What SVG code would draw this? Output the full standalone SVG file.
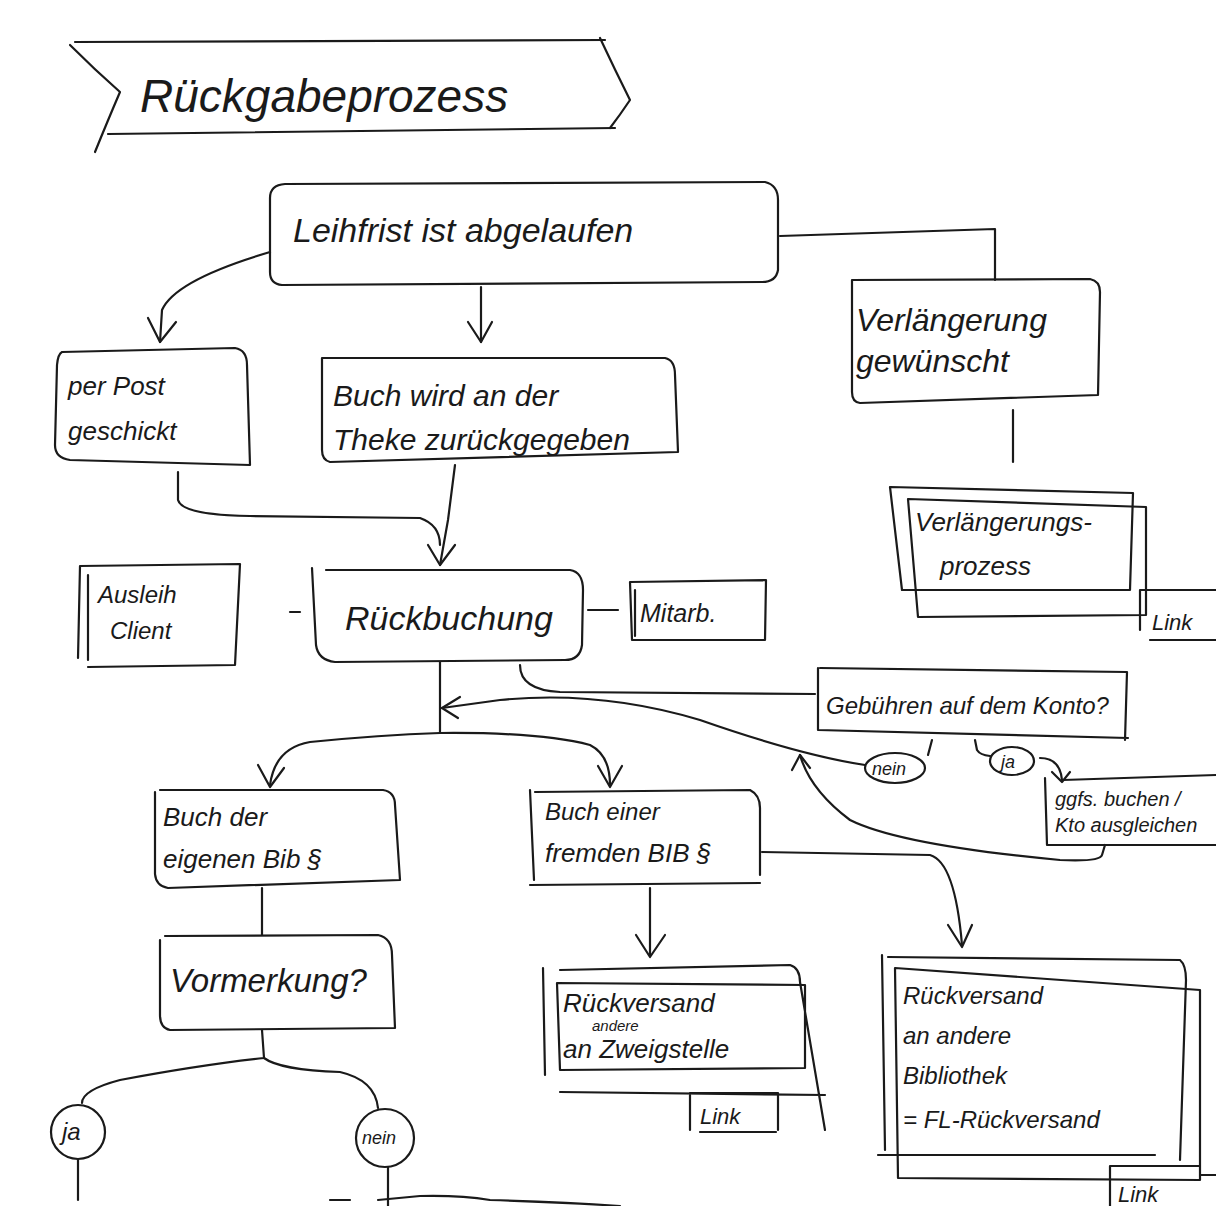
<svg xmlns="http://www.w3.org/2000/svg" width="1216" height="1206" viewBox="0 0 1216 1206">
<defs>
<style>
.s{fill:none;stroke:#1a1a1a;stroke-width:2.2;stroke-linecap:round;stroke-linejoin:round}
.t{font-family:"Liberation Sans","DejaVu Sans",sans-serif;fill:#1a1a1a;font-style:italic}
</style>
</defs>
<rect width="1216" height="1206" fill="#ffffff"/>

<g id="title">
<path class="s" d="M75 42 L605 40"/>
<path class="s" d="M70 45 Q95 70 120 92 Q108 120 95 152"/>
<path class="s" d="M108 134 L615 128"/>
<path class="s" d="M600 38 Q615 70 630 100 Q620 115 610 128"/>
<text class="t" x="140" y="112" font-size="46">Rückgabeprozess</text>
</g>

<g id="leihfrist">
<path class="s" d="M285 184 L765 182 Q778 185 778 200 L778 270 Q776 282 762 282 L282 285 Q270 284 270 272 L270 198 Q270 185 285 184 Z"/>
<text class="t" x="293" y="242" font-size="34">Leihfrist ist abgelaufen</text>
</g>

<g id="verlaengerung">
<path class="s" d="M852 280 L1090 279 Q1100 281 1100 292 L1098 395 L860 403 Q852 402 852 392 Z"/>
<text class="t" x="856" y="331" font-size="32">Verlängerung</text>
<text class="t" x="856" y="372" font-size="32">gewünscht</text>
</g>

<g id="verlaengerungsprozess">
<path class="s" d="M890 487 L1133 493 L1130 590 L902 590 Z"/>
<path class="s" d="M908 499 L1146 507 L1146 615 L918 617 Z"/>
<text class="t" x="915" y="531" font-size="26">Verlängerungs-</text>
<text class="t" x="940" y="575" font-size="26">prozess</text>
<path class="s" d="M1140 590 L1216 590 M1140 590 L1140 630 M1150 640 L1216 640"/>
<text class="t" x="1152" y="630" font-size="22">Link</text>
</g>

<g id="perpost">
<path class="s" d="M62 352 L235 348 Q247 350 247 365 L250 465 L70 460 Q55 458 55 445 L57 365 Q58 354 62 352 Z"/>
<text class="t" x="68" y="395" font-size="26">per Post</text>
<text class="t" x="68" y="440" font-size="26">geschickt</text>
</g>

<g id="theke">
<path class="s" d="M322 358 L665 358 Q675 360 675 375 L678 452 L330 462 Q322 460 322 450 Z"/>
<text class="t" x="333" y="406" font-size="30">Buch wird an der</text>
<text class="t" x="333" y="450" font-size="30">Theke zurückgegeben</text>
</g>

<g id="ausleih">
<path class="s" d="M80 566 L240 564 L235 665 L88 667 M80 566 L78 658 M88 575 L88 660"/>
<text class="t" x="98" y="603" font-size="24">Ausleih</text>
<text class="t" x="110" y="639" font-size="24">Client</text>
</g>

<g id="rueckbuchung">
<path class="s" d="M326 570 L570 570 Q583 572 583 590 L582 645 Q580 660 565 660 L335 662 Q318 660 316 645 L312 568"/>
<text class="t" x="345" y="630" font-size="34">Rückbuchung</text>
</g>

<g id="mitarb">
<path class="s" d="M630 582 L766 580 L765 640 L632 640 Z M635 590 L635 636"/>
<text class="t" x="640" y="622" font-size="25">Mitarb.</text>
</g>

<g id="gebuehren">
<path class="s" d="M820 668 L1127 672 L1125 740 M818 668 L818 730 L1128 738"/>
<text class="t" x="826" y="714" font-size="24">Gebühren auf dem Konto?</text>
</g>

<g id="nein1">
<ellipse class="s" cx="895" cy="768" rx="30" ry="15"/>
<text class="t" x="872" y="775" font-size="18">nein</text>
</g>

<g id="ja1">
<ellipse class="s" cx="1012" cy="761" rx="22" ry="14"/>
<text class="t" x="1001" y="768" font-size="18">ja</text>
</g>

<g id="ggfs">
<path class="s" d="M1063 780 L1216 775 M1045 778 L1047 845 L1216 845"/>
<text class="t" x="1055" y="806" font-size="20">ggfs. buchen /</text>
<text class="t" x="1055" y="832" font-size="20">Kto ausgleichen</text>
</g>

<g id="eigene">
<path class="s" d="M160 790 L383 790 Q395 792 395 805 L400 880 L168 888 Q156 886 155 874 L155 792"/>
<text class="t" x="163" y="826" font-size="26">Buch der</text>
<text class="t" x="163" y="868" font-size="26">eigenen Bib §</text>
</g>

<g id="fremde">
<path class="s" d="M535 792 L750 790 Q760 795 760 808 L760 875 M530 790 L534 880 M530 885 L760 883"/>
<text class="t" x="545" y="820" font-size="24">Buch einer</text>
<text class="t" x="545" y="862" font-size="26">fremden BIB §</text>
</g>

<g id="vormerkung">
<path class="s" d="M165 936 L378 935 Q392 938 392 955 L395 1028 L170 1030 Q160 1028 160 1015 L160 940"/>
<text class="t" x="170" y="992" font-size="33">Vormerkung?</text>
</g>

<g id="zweigstelle">
<path class="s" d="M560 970 L790 965 Q800 968 800 982 L825 1130 M543 968 L545 1075 M557 983 L805 985 L805 1068 L560 1070 Z M560 1092 L825 1095"/>
<text class="t" x="563" y="1012" font-size="26">Rückversand</text>
<text class="t" x="592" y="1031" font-size="15">andere</text>
<text class="t" x="563" y="1058" font-size="26">an Zweigstelle</text>
<path class="s" d="M690 1095 L690 1130 M690 1093 L778 1093 L778 1130 M700 1132 L776 1132"/>
<text class="t" x="700" y="1124" font-size="22">Link</text>
</g>

<g id="bibliothek">
<path class="s" d="M888 957 L1180 960 Q1186 965 1186 980 L1180 1160 M882 955 L885 1150 M878 1155 L1155 1155"/>
<path class="s" d="M895 968 L1200 990 L1200 1180 L898 1178 Z"/>
<text class="t" x="903" y="1004" font-size="24">Rückversand</text>
<text class="t" x="903" y="1044" font-size="24">an andere</text>
<text class="t" x="903" y="1084" font-size="24">Bibliothek</text>
<text class="t" x="903" y="1128" font-size="24">= FL-Rückversand</text>
<path class="s" d="M1110 1166 L1200 1166 M1110 1166 L1110 1206 M1200 1175 L1216 1175"/>
<text class="t" x="1118" y="1202" font-size="22">Link</text>
</g>

<g id="ja2">
<circle class="s" cx="78" cy="1132" r="27"/>
<text class="t" x="62" y="1140" font-size="24">ja</text>
</g>

<g id="nein2">
<circle class="s" cx="385" cy="1138" r="29"/>
<text class="t" x="362" y="1144" font-size="18">nein</text>
</g>

<g id="connectors">
<path class="s" d="M780 236 L995 229 L995 280"/>
<path class="s" d="M1013 410 L1013 462"/>
<path class="s" d="M270 252 Q175 280 162 310 L160 342"/>
<path class="s" d="M148 318 L160 342 L176 322"/>
<path class="s" d="M481 287 L481 342"/>
<path class="s" d="M468 322 L481 342 L492 322"/>
<path class="s" d="M178 472 L178 500 Q182 515 250 516 L420 518 Q440 525 440 545"/>
<path class="s" d="M455 465 L448 520 L440 565"/>
<path class="s" d="M428 545 L440 565 L455 545"/>
<path class="s" d="M290 612 L300 612"/>
<path class="s" d="M588 610 L618 610"/>
<path class="s" d="M440 662 L440 733"/>
<path class="s" d="M520 665 Q520 690 560 692 L815 694"/>
<path class="s" d="M932 740 L928 755"/>
<path class="s" d="M975 740 L977 750 Q980 755 990 756"/>
<path class="s" d="M865 765 Q800 755 700 720 Q600 690 500 700 L442 708"/>
<path class="s" d="M460 697 L442 708 L458 718"/>
<path class="s" d="M1040 758 Q1060 758 1062 780"/>
<path class="s" d="M1052 772 L1062 782 L1070 772"/>
<path class="s" d="M1105 845 L1102 855 Q1100 862 1060 860 Q900 845 850 820 Q810 790 800 755"/>
<path class="s" d="M792 770 L800 755 L810 768"/>
<path class="s" d="M440 733 Q380 735 310 742 Q275 748 270 785"/>
<path class="s" d="M258 765 L270 787 L284 768"/>
<path class="s" d="M440 733 Q540 732 590 745 Q610 755 610 785"/>
<path class="s" d="M598 766 L610 787 L622 766"/>
<path class="s" d="M762 852 L930 855 Q955 862 962 945"/>
<path class="s" d="M948 925 L962 947 L972 925"/>
<path class="s" d="M650 888 L650 955"/>
<path class="s" d="M636 935 L650 957 L665 935"/>
<path class="s" d="M262 888 L262 935"/>
<path class="s" d="M262 1030 L264 1058 Q200 1065 120 1080 Q82 1090 82 1103"/>
<path class="s" d="M264 1058 Q280 1070 340 1072 Q375 1080 378 1108"/>
<path class="s" d="M78 1160 L78 1200"/>
<path class="s" d="M388 1167 L388 1206"/>
<path class="s" d="M330 1200 L350 1200 M378 1200 L420 1196 Q460 1195 490 1200 Q560 1202 620 1206"/>
</g>
</svg>
